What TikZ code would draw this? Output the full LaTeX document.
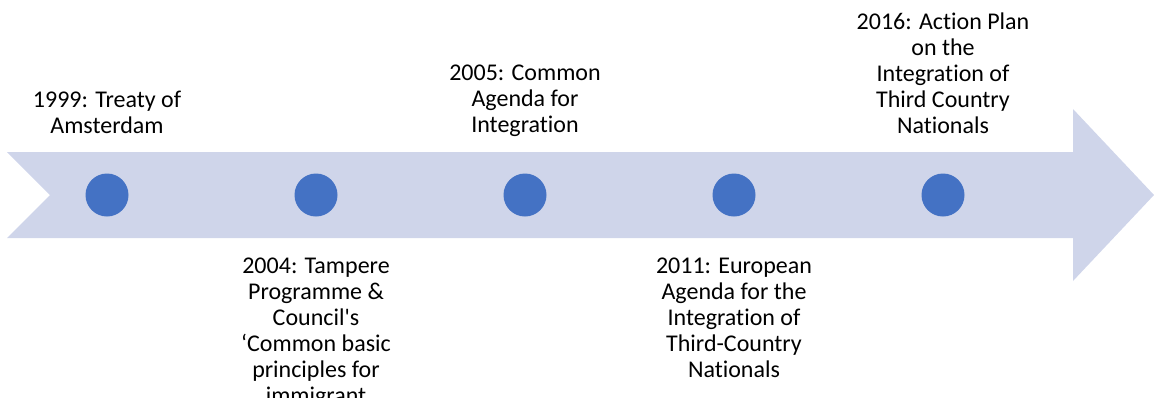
\documentclass[tikz,border=0pt]{standalone}
\usepackage{fontspec}
\setmainfont[Ligatures={NoCommon}]{Carlito}
\definecolor{bandfill}{HTML}{CFD5EA}
\definecolor{dotblue}{HTML}{4472C4}
\begin{document}
\begin{tikzpicture}[x=1pt,y=-1pt,
  dot/.style={circle,fill=dotblue,minimum size=43pt,inner sep=0pt},
  lbl/.style={align=center,anchor=base,inner sep=0pt,text=black,
    font=\fontsize{24}{26}\selectfont}]
  \useasboundingbox (0,0) rectangle (1154,405);
  \clip (0,0) rectangle (1154,405);
  % notched arrow band
  \fill[bandfill] (7,152) -- (1073,152) -- (1073,109) -- (1154,195)
    -- (1073,281) -- (1073,238) -- (7,238) -- (50,195) -- cycle;
  % milestones
  \node[dot] (m1) at (107,195) {};
  \node[dot] (m2) at (316,195) {};
  \node[dot] (m3) at (525,195) {};
  \node[dot] (m4) at (734,195) {};
  \node[dot] (m5) at (943,195) {};
  % labels above the band (anchored on their last baseline)
  \node[lbl] (t1) at (107,133) {1999: Treaty of\\Amsterdam};
  \node[lbl] (t3) at (525,132.5) {2005: Common\\Agenda for\\Integration};
  \node[lbl] (t5) at (943,133) {2016: Action Plan\\on the\\Integration of\\Third Country\\Nationals};
  % labels below the band; the long 2004 label is cut by its text box
  \begin{scope}
    \clip (200,245) rectangle (432,397);
    \node[lbl] (t2) at (316,403) {2004: Tampere\\Programme \&\\Council\textquotesingle s\\‘Common basic\\principles for\\immigrant};
  \end{scope}
  \node[lbl] (t4) at (734,377) {2011: European\\Agenda for the\\Integration of\\Third-Country\\Nationals};
\end{tikzpicture}
\end{document}
